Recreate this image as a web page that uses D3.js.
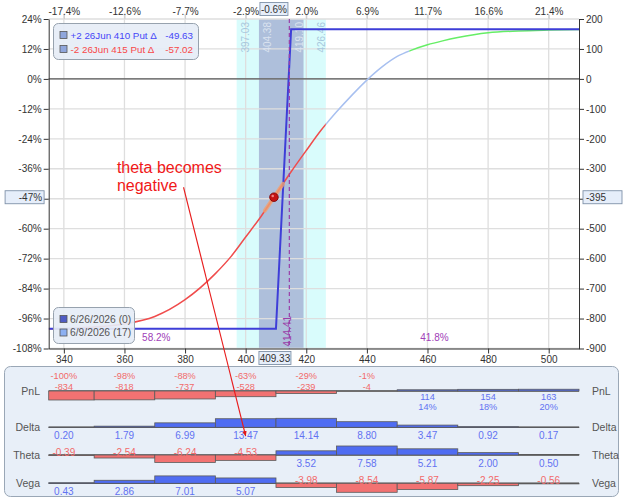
<!DOCTYPE html>
<html>
<head>
<meta charset="utf-8">
<title>Put spread risk graph</title>
<script src="https://d3js.org/d3.v7.min.js"></script>
<style>
  body { margin: 0; background: #fff; }
  svg { font-family: "Liberation Sans", Arial, sans-serif; display: block; }
</style>
</head>
<body>
<svg width="624" height="497"></svg>
<script>
    // ---- data ----
    const priceTicks = [340, 360, 380, 400, 420, 440, 460, 480, 500];
    const moveLabels = ["-17.4%", "-12.6%", "-7.7%", "-2.9%", "2.0%", "6.9%", "11.7%", "16.6%", "21.4%"];
    const pctTicks = [24, 12, 0, -12, -24, -36, -48, -60, -72, -84, -96, -108];
    const dollarTicks = [200, 100, 0, -100, -200, -300, -400, -500, -600, -700, -800, -900];

    // expiration (6/26/2026) P&L
    const expiryPrice = [335, 410, 415, 510];
    const expiryPnl = [-834, -834, 166, 166];

    // 6/9/2026 (T+17) P&L
    const t17Price = [335, 340, 350, 360, 370, 380, 390, 395, 400, 405, 410, 415, 420, 425, 430, 435, 440, 445, 450, 455, 460, 465, 470, 480, 490, 500, 510];
    const t17Pnl = [-834, -834, -828, -818, -793, -737, -650, -595, -528, -460, -385, -310, -239, -170, -110, -55, -4, 40, 75, 97, 114, 127, 138, 154, 160, 163, 165];
    const curveBreaks = [426.46, 454];
    const curveColors = ["#f04c4c", "#a8c0f0", "#66ee66"];

    // greeks panel
    const binPnl = [-834, -818, -737, -528, -239, -4, 114, 154, 163];
    const binPnlPct = ["-100%", "-98%", "-88%", "-63%", "-29%", "-1%", "14%", "18%", "20%"];
    const binDelta = [0.20, 1.79, 6.99, 13.47, 14.14, 8.80, 3.47, 0.92, 0.17];
    const binTheta = [-0.39, -2.54, -6.24, -4.53, 3.52, 7.58, 5.21, 2.00, 0.50];
    const binVega = [0.43, 2.86, 7.01, 5.07, -3.98, -8.54, -5.87, -2.25, -0.56];

    const outerBand = [397.03, 426.46];
    const innerBand = [404.38, 419.10];
    const currentPrice = 409.33;
    const currentMove = "-0.6%";
    const currentPnl = -395;
    const currentPct = "-47%";
    const breakEven = 414.41;
    const probBelow = "58.2%";
    const probAbove = "41.8%";

    const legLabels = ["+2 26Jun 410 Put \u0394", "-2 26Jun 415 Put \u0394"];
    const legDeltas = ["-49.63", "-57.02"];
    const dateLabels = ["6/26/2026 (0)", "6/9/2026 (17)"];

    // ---- layout ----
    const L = 48.7, R = 579, T = 19, B = 348.5;
    const svg = d3.select("svg");

    const x = d3.scaleLinear().domain([335, 510]).range([L, R]);
    const yPct = d3.scaleLinear().domain([-108, 24]).range([B, T]);
    const y = d3.scaleLinear().domain([-900, 200]).range([B, T]);

    const pnlAt = p => {
        const i = d3.bisectRight(t17Price, p) - 1;
        const t = (p - t17Price[i]) / (t17Price[i + 1] - t17Price[i]);
        return t17Pnl[i] + t * (t17Pnl[i + 1] - t17Pnl[i]);
    };

    svg.append("defs").append("clipPath").attr("id", "plot")
        .append("rect").attr("x", L).attr("y", T).attr("width", R - L).attr("height", B - T);

    // bands
    svg.append("rect").attr("x", x(outerBand[0])).attr("y", T)
        .attr("width", x(outerBand[1]) - x(outerBand[0])).attr("height", B - T)
        .attr("fill", "#d9fcfc");
    svg.append("rect").attr("x", x(innerBand[0])).attr("y", T)
        .attr("width", x(innerBand[1]) - x(innerBand[0])).attr("height", B - T)
        .attr("fill", "#aebfdb");

    // grid
    const grid = svg.append("g").attr("stroke", "#dedede").attr("stroke-width", 1.3);
    grid.selectAll("line.v").data(priceTicks).join("line")
        .attr("x1", d => x(d)).attr("x2", d => x(d)).attr("y1", T - 5).attr("y2", B);
    grid.selectAll("line.h").data(pctTicks).join("line")
        .attr("x1", L).attr("x2", R).attr("y1", d => yPct(d)).attr("y2", d => yPct(d));
    svg.append("line").attr("x1", L).attr("x2", R).attr("y1", y(0)).attr("y2", y(0))
        .attr("stroke", "#333").attr("stroke-width", 1);

    // band labels
    const bandLabels = [
        { v: outerBand[0], bx: x(outerBand[0]) + 12, c: "#a8c8de" },
        { v: innerBand[0], bx: x(innerBand[0]) + 12, c: "#dbe3f0" },
        { v: innerBand[1], bx: x(innerBand[1]) - 0.5, c: "#dbe3f0" },
        { v: outerBand[1], bx: x(outerBand[1]) - 1, c: "#a8c8de" }
    ];
    svg.selectAll("text.band").data(bandLabels).join("text")
        .attr("class", "band")
        .attr("transform", d => `translate(${d.bx},22) rotate(-90)`)
        .attr("text-anchor", "end").attr("font-size", 10).attr("fill", d => d.c)
        .text(d => d.v.toFixed(2));

    // T+17 curve, coloured in three pieces
    const plot = svg.append("g").attr("clip-path", "url(#plot)");
    const line = d3.line().x((d, i) => x(t17Price[i])).y(d => y(d)).curve(d3.curveMonotoneX);
    const edges = [335, curveBreaks[0], curveBreaks[1], 510];
    curveColors.forEach((c, k) => {
        const cid = "seg" + k;
        svg.select("defs").append("clipPath").attr("id", cid).append("rect")
            .attr("x", x(edges[k])).attr("y", T).attr("width", x(edges[k + 1]) - x(edges[k])).attr("height", B - T);
        plot.append("path").attr("d", line(t17Pnl)).attr("clip-path", `url(#${cid})`)
            .attr("fill", "none").attr("stroke", c).attr("stroke-width", 1.5);
    });

    // expiration line
    plot.append("path")
        .attr("d", d3.line().x((d, i) => x(expiryPrice[i])).y(d => y(d))(expiryPnl))
        .attr("fill", "none").attr("stroke", "#3e3ed8").attr("stroke-width", 2);

    // break-even dashed line
    svg.append("line").attr("x1", x(breakEven)).attr("x2", x(breakEven)).attr("y1", T).attr("y2", B)
        .attr("stroke", "#9a3ea8").attr("stroke-width", 1.2).attr("stroke-dasharray", "4,3");
    svg.append("text").attr("transform", `translate(${x(breakEven) + 1.5},${B - 2}) rotate(-90)`)
        .attr("font-size", 10).attr("fill", "#9a3ea8").text(breakEven.toFixed(2));

    // current position marker
    const d0 = currentPrice - 3, d1 = currentPrice + 3;
    svg.append("line").attr("x1", x(d0)).attr("y1", y(pnlAt(d0))).attr("x2", x(d1)).attr("y2", y(pnlAt(d1)))
        .attr("stroke", "#f0a070").attr("stroke-opacity", 0.8).attr("stroke-width", 4).attr("stroke-linecap", "round");
    svg.append("circle").attr("cx", x(currentPrice)).attr("cy", y(currentPnl)).attr("r", 4.3)
        .attr("fill", "#c41414").attr("stroke", "#7a0000").attr("stroke-width", 0.8);
    svg.append("circle").attr("cx", x(currentPrice) - 1.2).attr("cy", y(currentPnl) - 1.2).attr("r", 1.3)
        .attr("fill", "#f08080");

    // axes
    const axisStyle = g => {
        g.select(".domain").attr("stroke", "#333");
        g.selectAll(".tick line").attr("stroke", "#333");
        g.selectAll(".tick text").attr("fill", "#333").attr("font-size", 10)
            .attr("font-family", "Liberation Sans, Arial, sans-serif");
    };
    svg.append("g").attr("transform", `translate(${L},0)`)
        .call(d3.axisLeft(yPct).tickValues(pctTicks).tickFormat(d => d === -48 ? "" : d + "%").tickSize(5).tickSizeOuter(0).tickPadding(2))
        .call(axisStyle);
    svg.append("g").attr("transform", `translate(${R},0)`)
        .call(d3.axisRight(y).tickValues(dollarTicks).tickFormat(d => d === -400 ? "" : d).tickSize(5).tickSizeOuter(0).tickPadding(2))
        .call(axisStyle);
    svg.append("g").attr("transform", `translate(0,${B})`)
        .call(d3.axisBottom(x).tickValues(priceTicks).tickSize(5).tickSizeOuter(0).tickPadding(2))
        .call(axisStyle);
    svg.append("g").attr("transform", `translate(0,${T})`)
        .call(d3.axisTop(x).tickValues(priceTicks).tickFormat((d, i) => moveLabels[i]).tickSize(4).tickSizeOuter(0).tickPadding(0))
        .call(axisStyle)
        .call(g => g.select(".domain").remove())
        .call(g => g.selectAll(".tick line").attr("stroke", "#cccccc"));

    // value boxes on the axes
    const valueBox = (cx, cy, w, txt, anchor) => {
        svg.append("rect").attr("x", cx - w / 2).attr("y", cy - 6.5).attr("width", w).attr("height", 13)
            .attr("fill", "#e6eefa").attr("stroke", "#7f91a8").attr("stroke-width", 0.9);
        const tx = anchor === "end" ? cx + w / 2 - 2 : anchor === "start" ? cx - w / 2 + 3 : cx;
        svg.append("text").attr("x", tx).attr("y", cy + 3.6).attr("text-anchor", anchor)
            .attr("font-size", 10).attr("fill", "#333").text(txt);
    };
    valueBox(x(currentPrice), 9, 28, currentMove, "middle");
    valueBox(x(currentPrice) + 1, B + 9.5, 32, currentPrice.toFixed(2), "middle");
    valueBox(24.6, y(currentPnl), 39, currentPct, "end");
    valueBox(602.5, y(currentPnl), 39, currentPnl, "start");

    // probabilities
    svg.append("text").attr("x", x(370.5)).attr("y", B - 7.5).attr("text-anchor", "middle")
        .attr("font-size", 10).attr("fill", "#a040b8").text(probBelow);
    svg.append("text").attr("x", x(462.3)).attr("y", B - 7.5).attr("text-anchor", "middle")
        .attr("font-size", 10).attr("fill", "#a040b8").text(probAbove);

    // top legend
    const leg = svg.append("g");
    leg.append("rect").attr("x", 53.5).attr("y", 23.5).attr("width", 145).attr("height", 36).attr("rx", 5)
        .attr("fill", "#e6edf6").attr("fill-opacity", 0.92).attr("stroke", "#97a2ae");
    legLabels.forEach((t, i) => {
        const yy = 35 + i * 14;
        const col = i === 0 ? "#4646f8" : "#f84848";
        leg.append("rect").attr("x", 60).attr("y", yy - 3.5).attr("width", 7).attr("height", 7)
            .attr("fill", "#8fa6dc").attr("stroke", "#555").attr("stroke-width", 0.8);
        leg.append("text").attr("x", 70.5).attr("y", yy + 3.6).attr("font-size", 9.8).attr("fill", col).text(t);
        leg.append("text").attr("x", 193).attr("y", yy + 3.6).attr("text-anchor", "end")
            .attr("font-size", 9.8).attr("fill", col).text(legDeltas[i]);
    });

    // date legend
    const leg2 = svg.append("g");
    leg2.append("rect").attr("x", 53.5).attr("y", 307.5).attr("width", 81).attr("height", 36).attr("rx", 5)
        .attr("fill", "#e6edf6").attr("fill-opacity", 0.92).attr("stroke", "#97a2ae");
    dateLabels.forEach((t, i) => {
        const yy = 319 + i * 13.5;
        leg2.append("rect").attr("x", 60).attr("y", yy - 3.5).attr("width", 7).attr("height", 7)
            .attr("fill", i === 0 ? "#4f5cc4" : "#8cb0f2").attr("stroke", "#555").attr("stroke-width", 0.8);
        leg2.append("text").attr("x", 70).attr("y", yy + 3.6).attr("font-size", 10.3).attr("fill", "#555").text(t);
    });

    // ---- greeks panel ----
    svg.append("rect").attr("x", 4.5).attr("y", 366.5).attr("width", 614).attr("height", 130).attr("rx", 6)
        .attr("fill", "#e8eff8").attr("stroke", "#9aa7b6");

    const rows = [
        { name: "PnL", vals: binPnl, base: 391 },
        { name: "Delta", vals: binDelta, base: 427.3 },
        { name: "Theta", vals: binTheta, base: 455 },
        { name: "Vega", vals: binVega, base: 483.3 }
    ];
    const binX0 = d => Math.max(335, d - 10);
    const binX1 = d => Math.min(510, d + 10);

    rows.forEach(r => {
        const g = svg.append("g");
        const h = d3.scaleLinear().domain([0, d3.max(r.vals, Math.abs)]).range([0, 9]);
        g.append("line").attr("x1", L).attr("x2", R).attr("y1", r.base).attr("y2", r.base)
            .attr("stroke", "#5a5a5a").attr("stroke-width", 1.6);
        g.selectAll("rect").data(r.vals).join("rect")
            .attr("x", (d, i) => x(binX0(priceTicks[i])))
            .attr("width", (d, i) => x(binX1(priceTicks[i])) - x(binX0(priceTicks[i])))
            .attr("y", d => d >= 0 ? r.base - h(d) : r.base)
            .attr("height", d => h(Math.abs(d)))
            .attr("fill", d => d >= 0 ? "#4f6cf2" : "#f27272")
            .attr("stroke", "#5a5a5a").attr("stroke-width", 0.8);

        g.append("text").attr("x", 40).attr("y", r.base + 4).attr("text-anchor", "end")
            .attr("font-size", 10.5).attr("fill", "#555").text(r.name);
        g.append("text").attr("x", 592).attr("y", r.base + 4)
            .attr("font-size", 10.5).attr("fill", "#555").text(r.name);

        r.vals.forEach((v, i) => {
            const cx = x(priceTicks[i]);
            const neg = v < 0;
            const col = neg ? "#f26a6a" : "#6272f2";
            if (r.name === "PnL") {
                const lines = neg ? [binPnlPct[i], v] : [v, binPnlPct[i]];
                const y0 = neg ? r.base - 11.8 : r.base + 8.6;
                lines.forEach((t, k) => g.append("text").attr("x", cx).attr("y", y0 + k * 10.6)
                    .attr("text-anchor", "middle").attr("font-size", 9.2).attr("fill", col).text(t));
            } else {
                g.append("text").attr("x", cx).attr("y", neg ? r.base + 1 : r.base + 11.5)
                    .attr("text-anchor", "middle").attr("font-size", 10).attr("fill", col).text(v.toFixed(2));
            }
        });
    });

    // ---- annotation ----
    const note = svg.append("g");
    note.append("defs").append("marker").attr("id", "head").attr("viewBox", "0 0 10 10")
        .attr("refX", 9).attr("refY", 5).attr("markerWidth", 5).attr("markerHeight", 5).attr("orient", "auto")
        .append("path").attr("d", "M0,1 L10,5 L0,9 Z").attr("fill", "#e01818");
    note.append("line").attr("x1", x(379.5)).attr("y1", yPct(-43.4))
        .attr("x2", x(400)).attr("y2", 436)
        .attr("stroke", "#e81c1c").attr("stroke-width", 1.1).attr("marker-end", "url(#head)");
    note.append("text").attr("x", x(357.5)).attr("y", yPct(-37.8)).attr("font-size", 16)
        .attr("fill", "#f01818").text("theta becomes");
    note.append("text").attr("x", x(357.5)).attr("y", yPct(-37.8) + 18).attr("font-size", 16)
        .attr("fill", "#f01818").text("negative");
</script>
</body>
</html>
